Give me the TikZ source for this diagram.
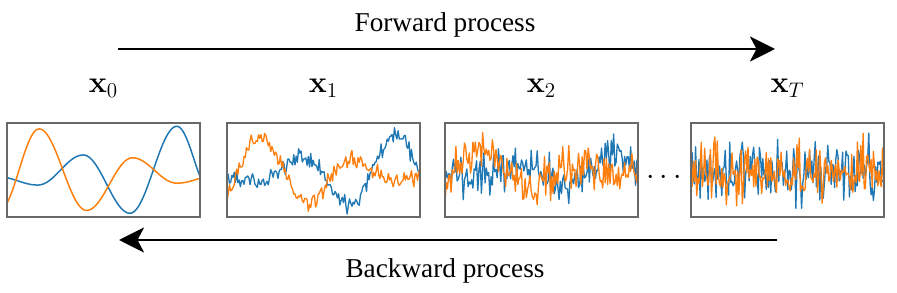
\documentclass[tikz,border=0pt]{standalone}
\usepackage[no-math]{fontspec}
\setmainfont{Liberation Serif}
\usetikzlibrary{arrows.meta,positioning,backgrounds}
\definecolor{tabblue}{RGB}{31,119,180}
\definecolor{taborange}{RGB}{255,127,14}
\definecolor{spine}{RGB}{105,105,105}
\tikzset{
  >={Stealth[length=5mm,width=5mm,inset=1.3mm]},
  panel/.style={draw=spine,line width=0.65pt,minimum width=3.86cm,minimum height=1.88cm,
    inner sep=0pt,outer sep=0pt},
  lab/.style={font=\fontsize{17}{20}\selectfont,anchor=base,inner sep=0pt},
  title/.style={font=\fontsize{15.5}{18}\selectfont,anchor=base,inner sep=0pt},
  proc/.style={->,line width=1.7pt},
  sig/.style={draw=#1,line width=0.85pt,line join=round},
  jagsig/.style={draw=#1,line width=0.75pt,line join=round},
}

\begin{document}
\begin{tikzpicture}[x=0.02cm,y=-0.02cm,
    declare function={
      cseg(\q,\ta,\ya,\tb,\yb)=\ya+(\yb-\ya)*(1-cos(180*(\q-\ta)/(\tb-\ta)))/2;
      fb(\q)=(\q<0.16) ? cseg(\q,-0.05,0.57,0.16,0.66) : ((\q<0.395) ? cseg(\q,0.16,0.66,0.395,0.34) :
        ((\q<0.637) ? cseg(\q,0.395,0.34,0.637,0.96) : ((\q<0.88) ? cseg(\q,0.637,0.96,0.88,0.035) :
        cseg(\q,0.88,0.035,1.06,0.75))));
      fo(\q)=(\q<0.166) ? cseg(\q,-0.04,0.93,0.166,0.063) : ((\q<0.412) ? cseg(\q,0.166,0.063,0.412,0.93) :
        ((\q<0.65) ? cseg(\q,0.412,0.93,0.65,0.37) : ((\q<0.88) ? cseg(\q,0.65,0.37,0.88,0.64) :
        cseg(\q,0.88,0.64,1.1,0.55))));
    }]
  \useasboundingbox (0,0) rectangle (897,293);
  \pgfmathsetseed{11}

  % panels
  \node[panel] (p0) at (103.5,170) {};
  \node[panel] (p1) at (323.5,170) {};
  \node[panel] (p2) at (541.5,170) {};
  \node[panel] (p3) at (787.5,170) {};

  \begin{scope}[on background layer]
    \begin{scope}[shift={(p0.north west)}]
      \clip (0,0) rectangle (193,94);
      \draw[sig=tabblue] plot[domain=0:1,samples=120,smooth] ({193*\x},{94*fb(\x)});
      \draw[sig=taborange] plot[domain=0:1,samples=120,smooth] ({193*\x},{94*fo(\x)});
    \end{scope}
    \begin{scope}[shift={(p1.north west)}]
      \clip (0,0) rectangle (193,94);
      \draw[jagsig=tabblue] plot[domain=0:1,samples=160] ({193*\x},{94*(0.5+0.8*(fb(\x)-0.5)+0.045*(rand+rand+rand))});
      \draw[jagsig=taborange] plot[domain=0:1,samples=160] ({193*\x},{94*(0.5+0.8*(fo(\x)-0.5)+0.045*(rand+rand+rand))});
    \end{scope}
    \begin{scope}[shift={(p2.north west)}]
      \clip (0,0) rectangle (193,94);
      \draw[jagsig=tabblue] plot[domain=0:1,samples=160] ({193*\x},{94*(0.5+0.45*(fb(\x)-0.5)+0.115*(rand+rand+rand))});
      \draw[jagsig=taborange] plot[domain=0:1,samples=160] ({193*\x},{94*(0.5+0.45*(fo(\x)-0.5)+0.115*(rand+rand+rand))});
    \end{scope}
    \begin{scope}[shift={(p3.north west)}]
      \clip (0,0) rectangle (193,94);
      \draw[jagsig=tabblue] plot[domain=0:1,samples=170] ({193*\x},{94*(0.5+0.16*(rand+rand+rand))});
      \draw[jagsig=taborange] plot[domain=0:1,samples=170] ({193*\x},{94*(0.5+0.16*(rand+rand+rand))});
    \end{scope}
  \end{scope}

  \node[lab] (dots) at (664,184.5) {$\cdots$};

  % labels
  \node[lab] (x0) at (103.5,92.5) {$\mathbf{x}_0$};
  \node[lab] (x1) at (323.5,92.5) {$\mathbf{x}_1$};
  \node[lab] (x2) at (541.5,92.5) {$\mathbf{x}_2$};
  \node[lab] (xT) at (787.5,92.5) {$\mathbf{x}_T$};

  % processes
  \node[title] (fwd) at (445,32) {Forward process};
  \node[title] (bwd) at (445,278) {Backward process};
  \coordinate (fs) at (118,49);
  \coordinate (fe) at (775,49);
  \coordinate (bs) at (777,240);
  \coordinate (be) at (119,240);
  \draw[proc] (fs) -- (fe);
  \draw[proc] (bs) -- (be);
\end{tikzpicture}
\end{document}
